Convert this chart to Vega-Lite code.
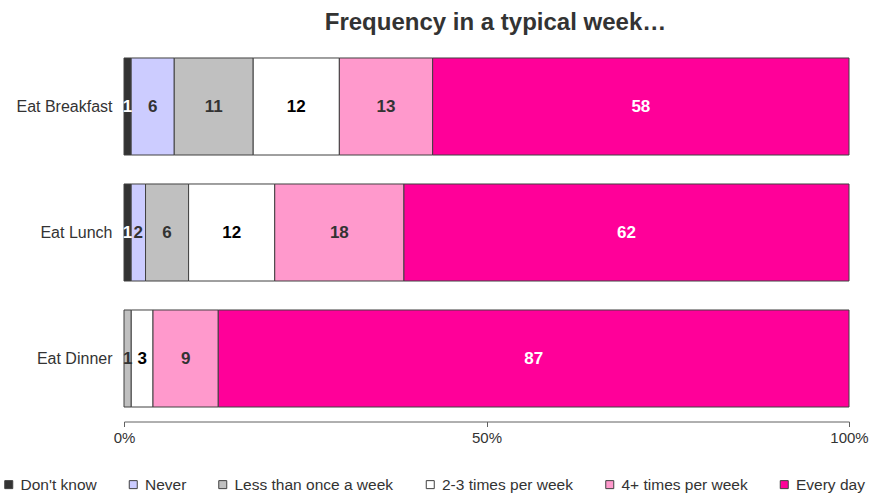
{
  "$schema": "https://vega.github.io/schema/vega-lite/v6.json",
  "width": 725,
  "height": 378,
  "autosize": "none",
  "padding": {"left": 124, "top": 43.5, "right": 24, "bottom": 73.5},
  "background": "white",
  "title": {
    "text": "Frequency in a typical week…",
    "font": "Liberation Sans",
    "fontSize": 24,
    "fontWeight": "bold",
    "color": "#333333",
    "anchor": "middle",
    "baseline": "middle",
    "offset": -3,
    "dx": 9
  },
  "config": {
    "view": {"stroke": null},
    "font": "Liberation Sans"
  },
  "data": {
    "values": [
      {"meal": "Eat Breakfast", "cat": "Don't know", "k": 1, "value": 1},
      {"meal": "Eat Breakfast", "cat": "Never", "k": 2, "value": 6},
      {"meal": "Eat Breakfast", "cat": "Less than once a week", "k": 3, "value": 11},
      {"meal": "Eat Breakfast", "cat": "2-3 times per week", "k": 4, "value": 12},
      {"meal": "Eat Breakfast", "cat": "4+ times per week", "k": 5, "value": 13},
      {"meal": "Eat Breakfast", "cat": "Every day", "k": 6, "value": 58},
      {"meal": "Eat Lunch", "cat": "Don't know", "k": 1, "value": 1},
      {"meal": "Eat Lunch", "cat": "Never", "k": 2, "value": 2},
      {"meal": "Eat Lunch", "cat": "Less than once a week", "k": 3, "value": 6},
      {"meal": "Eat Lunch", "cat": "2-3 times per week", "k": 4, "value": 12},
      {"meal": "Eat Lunch", "cat": "4+ times per week", "k": 5, "value": 18},
      {"meal": "Eat Lunch", "cat": "Every day", "k": 6, "value": 62},
      {"meal": "Eat Dinner", "cat": "Less than once a week", "k": 3, "value": 1},
      {"meal": "Eat Dinner", "cat": "2-3 times per week", "k": 4, "value": 3},
      {"meal": "Eat Dinner", "cat": "4+ times per week", "k": 5, "value": 9},
      {"meal": "Eat Dinner", "cat": "Every day", "k": 6, "value": 87}
    ]
  },
  "transform": [
    {"stack": "value", "groupby": ["meal"], "offset": "normalize", "sort": [{"field": "k", "order": "ascending"}], "as": ["x0", "x1"]},
    {"calculate": "(datum.x0 + datum.x1) / 2", "as": "xm"}
  ],
  "encoding": {
    "y": {
      "field": "meal",
      "type": "nominal",
      "sort": ["Eat Breakfast", "Eat Lunch", "Eat Dinner"],
      "scale": {"paddingInner": 0.23, "paddingOuter": 0.115},
      "axis": {
        "title": null,
        "ticks": false,
        "domain": false,
        "labelFontSize": 16,
        "labelColor": "#333333",
        "labelPadding": 12,
        "labelFont": "Liberation Sans"
      }
    }
  },
  "layer": [
    {
      "mark": {"type": "bar", "stroke": "#404040", "strokeWidth": 1},
      "encoding": {
        "x": {
          "field": "x0",
          "type": "quantitative",
          "scale": {"domain": [0, 1], "nice": false},
          "axis": {
            "title": null,
            "values": [0, 0.5, 1],
            "format": ".0%",
            "grid": false,
            "domainColor": "#606060",
            "tickColor": "#606060",
            "tickSize": 5,
            "labelFontSize": 15,
            "labelColor": "#333333",
            "labelPadding": 4,
            "labelFlush": false,
            "labelFont": "Liberation Sans"
          }
        },
        "x2": {"field": "x1"},
        "color": {
          "field": "cat",
          "type": "nominal",
          "scale": {
            "domain": ["Don't know", "Never", "Less than once a week", "2-3 times per week", "4+ times per week", "Every day"],
            "range": ["#333333", "#CCCCFF", "#C0C0C0", "#FFFFFF", "#FF99CC", "#FF0099"]
          },
          "legend": {
            "title": null,
            "orient": "none",
            "direction": "horizontal",
            "columns": 6,
            "legendX": -123,
            "legendY": 433,
            "symbolType": "square",
            "symbolSize": 64,
            "symbolStrokeColor": "#404040",
            "symbolStrokeWidth": 1,
            "symbolOpacity": 1,
            "labelFontSize": 15.5,
            "labelColor": "#333333",
            "labelFont": "Liberation Sans",
            "labelOffset": 4,
            "columnPadding": 28.5,
            "labelLimit": 300
          }
        }
      }
    },
    {
      "mark": {"type": "text", "fontSize": 17, "fontWeight": "bold", "font": "Liberation Sans", "baseline": "middle", "align": "center"},
      "encoding": {
        "x": {"field": "xm", "type": "quantitative"},
        "text": {"field": "value", "type": "quantitative"},
        "color": {
          "condition": [
            {"test": "datum.cat === \"Don't know\" || datum.cat === 'Every day'", "value": "#FFFFFF"},
            {"test": "datum.cat === '2-3 times per week'", "value": "#000000"}
          ],
          "value": "#333333"
        }
      }
    }
  ]
}
